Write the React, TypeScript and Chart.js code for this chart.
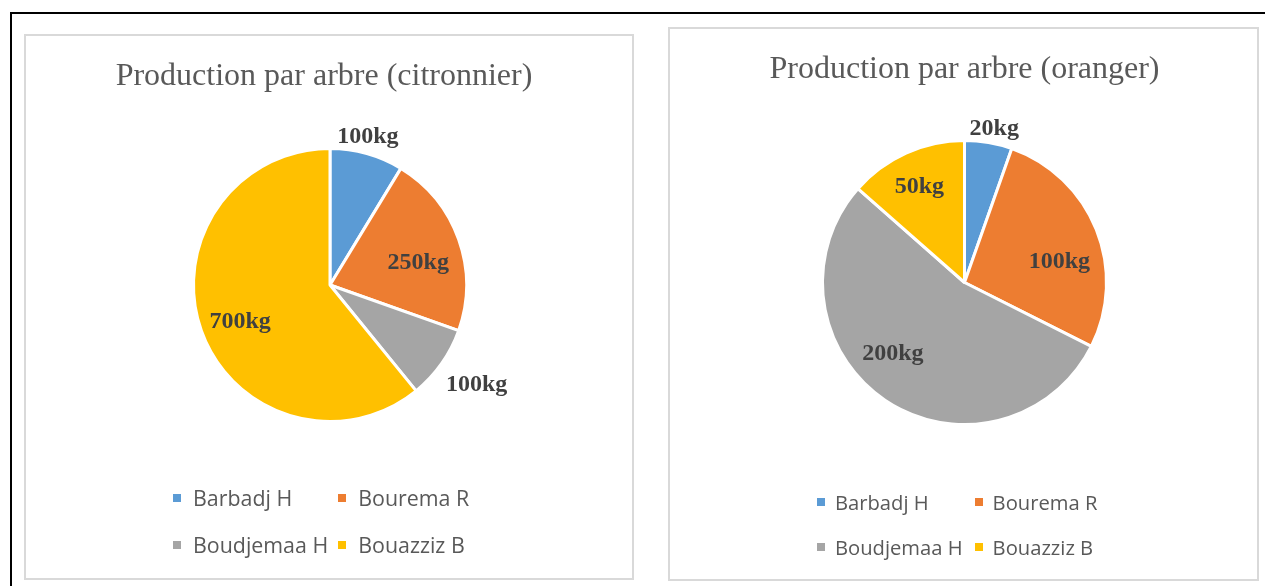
import React, { useEffect, useRef } from "react";
import { Chart, registerables } from "chart.js";

Chart.register(...registerables);

// ---------- data ----------
const CATEGORIES = ["Barbadj H", "Bourema R", "Boudjemaa H", "Bouazziz B"];
const CITRON_VALUES = [100, 250, 100, 700];
const ORANGE_VALUES = [20, 100, 200, 50];
const UNIT = "kg";
const TITLE_CITRON = "Production par arbre (citronnier)";
const TITLE_ORANGE = "Production par arbre (oranger)";

// ---------- style ----------
const COLORS = ["#5B9BD5", "#ED7D31", "#A5A5A5", "#FFC000"];
// label placement: radial factor of outer radius and angle offset (deg) from slice middle
const CITRON_LABEL_POS = [
  { r: 1.124, a: -1.35 },
  { r: 0.667, a: 5.3 },
  { r: 1.298, a: -1.1 },
  { r: 0.712, a: -2.9 },
];
const ORANGE_LABEL_POS = [
  { r: 1.105, a: 1.2 },
  { r: 0.684, a: 9.4 },
  { r: 0.712, a: 11 },
  { r: 0.742, a: -1 },
];

const SERIF = "'Liberation Serif', 'Times New Roman', serif";
const SANS = "'Open Sans', 'Noto Sans', sans-serif";

const sliceLabelPlugin = {
  id: "sliceLabels",
  afterDatasetsDraw(chart: any, _args: any, opts: any) {
    const ctx = chart.ctx;
    const meta = chart.getDatasetMeta(0);
    const data = chart.data.datasets[0].data;
    ctx.save();
    ctx.font = "bold 24px " + SERIF;
    ctx.fillStyle = "#404040";
    ctx.textAlign = "center";
    ctx.textBaseline = "middle";
    meta.data.forEach((arc: any, i: number) => {
      const p = arc.getProps(["x", "y", "startAngle", "endAngle", "outerRadius"], true);
      const pos = opts.positions[i];
      const mid = (p.startAngle + p.endAngle) / 2 + (pos.a * Math.PI) / 180;
      const r = p.outerRadius * pos.r;
      ctx.fillText(String(data[i]) + UNIT, p.x + Math.cos(mid) * r, p.y + Math.sin(mid) * r);
    });
    ctx.restore();
  },
};

const panelTitlePlugin = {
  id: "panelTitle",
  afterDraw(chart: any, _args: any, opts: any) {
    const ctx = chart.ctx;
    ctx.save();
    ctx.font = "normal 32px " + SERIF;
    ctx.fillStyle = "#595959";
    ctx.textAlign = "center";
    ctx.textBaseline = "alphabetic";
    ctx.fillText(opts.text, chart.width / 2 + opts.dx, opts.baseline);
    ctx.restore();
  },
};

type PanelProps = {
  title: string;
  values: number[];
  labelPos: { r: number; a: number }[];
  left: number;
  top: number;
  width: number;
  height: number;
  titleDx: number;
  titleBaseline: number;
  layoutPad: { left: number; top: number; bottom: number };
  legendLeft: number;
  legendTop: number;
  legendRowGap: number;
  legendColGap: number;
  legendFont: number;
  legendTextGap: number;
};

function PiePanel(props: PanelProps) {
  const ref = useRef<HTMLCanvasElement | null>(null);
  const innerW = props.width - 4;
  const innerH = props.height - 4;

  useEffect(() => {
    if (!ref.current) return;
    const chart = new Chart(ref.current, {
      type: "pie",
      data: {
        labels: CATEGORIES,
        datasets: [
          {
            data: props.values,
            backgroundColor: COLORS,
            borderColor: "#FFFFFF",
            borderWidth: 3,
          },
        ],
      },
      options: {
        responsive: false,
        animation: false,
        layout: {
          padding: {
            left: props.layoutPad.left,
            right: 0,
            top: props.layoutPad.top,
            bottom: props.layoutPad.bottom,
          },
        },
        plugins: {
          legend: { display: false },
          tooltip: { enabled: false },
          title: { display: false },
          sliceLabels: { positions: props.labelPos },
          panelTitle: { text: props.title, dx: props.titleDx, baseline: props.titleBaseline },
        } as any,
      },
      plugins: [sliceLabelPlugin, panelTitlePlugin],
    });
    return () => chart.destroy();
  }, []);

  return (
    <div
      style={{
        position: "absolute",
        left: props.left,
        top: props.top,
        width: props.width,
        height: props.height,
        boxSizing: "border-box",
        border: "2px solid #D9D9D9",
        background: "#FFFFFF",
      }}
    >
      <canvas
        ref={ref}
        width={innerW}
        height={innerH}
        style={{ display: "block", width: innerW, height: innerH }}
      />
      <div
        style={{
          position: "absolute",
          left: props.legendLeft,
          top: props.legendTop,
          display: "grid",
          gridTemplateColumns: "auto auto",
          columnGap: props.legendColGap,
          rowGap: props.legendRowGap,
          fontFamily: SANS,
          fontSize: props.legendFont,
          color: "#595959",
        }}
      >
        {CATEGORIES.map((c, i) => (
          <div key={c} style={{ display: "flex", alignItems: "center", height: 24, whiteSpace: "nowrap" }}>
            <span
              style={{
                display: "inline-block",
                width: 8,
                height: 8,
                background: COLORS[i],
                marginRight: props.legendTextGap,
              }}
            />
            <span style={{ lineHeight: "24px" }}>{c}</span>
          </div>
        ))}
      </div>
    </div>
  );
}

export default function App() {
  return (
    <div
      style={{
        position: "absolute",
        left: 0,
        top: 0,
        width: 1265,
        height: 586,
        overflow: "hidden",
        background: "#FFFFFF",
      }}
    >
      <div
        style={{
          position: "absolute",
          left: 10,
          top: 12,
          width: 1300,
          height: 620,
          borderLeft: "2px solid #000000",
          borderTop: "2px solid #000000",
        }}
      />
      <PiePanel
        title={TITLE_CITRON}
        values={CITRON_VALUES}
        labelPos={CITRON_LABEL_POS}
        left={24}
        top={34}
        width={610}
        height={546}
        titleDx={-5}
        titleBaseline={49}
        layoutPad={{ left: 2, top: 111, bottom: 155 }}
        legendLeft={147}
        legendTop={450}
        legendRowGap={23}
        legendColGap={10}
        legendFont={21.4}
        legendTextGap={12}
      />
      <PiePanel
        title={TITLE_ORANGE}
        values={ORANGE_VALUES}
        labelPos={ORANGE_LABEL_POS}
        left={668}
        top={27}
        width={591}
        height={554}
        titleDx={1}
        titleBaseline={49}
        layoutPad={{ left: 2, top: 110, bottom: 153 }}
        legendLeft={147}
        legendTop={461}
        legendRowGap={21}
        legendColGap={12}
        legendFont={20.2}
        legendTextGap={10}
      />
    </div>
  );
}
